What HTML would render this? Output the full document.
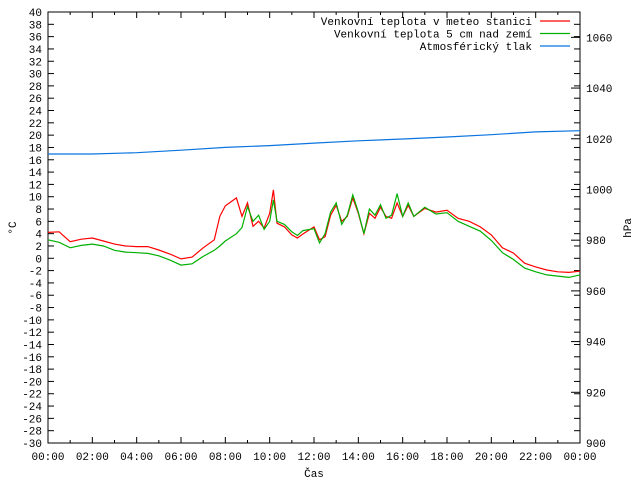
<!DOCTYPE html>
<html><head><meta charset="utf-8"><style>
html,body{margin:0;padding:0;background:#fff;}
svg text{font-family:"Liberation Mono","DejaVu Sans Mono",monospace;font-size:11px;fill:#000;}
</style></head><body>
<svg id="chart" width="640" height="480" xmlns="http://www.w3.org/2000/svg"></svg>
<script>
const hours = [0,0.5,1,1.5,2,2.5,3,3.5,4,4.5,5,5.5,6,6.5,7,7.5,7.75,8,8.5,8.75,9,9.25,9.5,9.75,10,10.17,10.33,10.67,11,11.25,11.5,12,12.25,12.5,12.75,13,13.25,13.5,13.75,14,14.25,14.5,14.75,15,15.25,15.5,15.75,16,16.25,16.5,17,17.5,18,18.5,19,19.5,20,20.5,21,21.5,22,22.5,23,23.5,24];
const tempStation = [4.2,4.3,2.7,3.1,3.3,2.8,2.3,2.0,1.9,1.9,1.35,0.7,-0.1,0.2,1.7,3.0,6.8,8.5,9.8,6.8,9.0,5.2,6.0,4.9,7.3,11.1,5.7,5.1,3.8,3.3,3.95,5.1,3.0,3.5,7.0,8.6,6.0,6.8,9.8,7.3,4.0,7.3,6.5,8.3,6.8,6.5,9.0,6.8,8.6,6.8,8.1,7.5,7.8,6.5,6.0,5.1,3.8,1.7,0.85,-0.8,-1.4,-1.9,-2.2,-2.3,-2.1];
const tempGround = [3.0,2.6,1.7,2.1,2.3,2.0,1.3,1.0,0.9,0.8,0.4,-0.3,-1.1,-0.9,0.3,1.3,2.0,2.8,4.0,5.0,8.4,6.0,7.0,4.7,6.0,9.5,6.0,5.5,4.3,3.7,4.5,4.8,2.5,4.0,7.5,9.0,5.5,7.0,10.3,7.5,4.0,8.0,7.0,8.7,6.5,7.0,10.5,6.8,9.0,6.8,8.3,7.2,7.4,6.0,5.2,4.4,2.9,0.9,-0.2,-1.6,-2.2,-2.7,-2.9,-3.1,-2.7];
const pHours = [0,2,4,6,8,10,12,14,16,18,20,22,24];
const pressure = [1014.0,1014.0,1014.5,1015.5,1016.6,1017.3,1018.3,1019.2,1019.9,1020.7,1021.6,1022.7,1023.2];
const yTicks = [];for(let v=-30;v<=40;v+=2)yTicks.push(v);
const y2Ticks = [900,920,940,960,980,1000,1020,1040,1060];
const xTickLabels = ["00:00","02:00","04:00","06:00","08:00","10:00","12:00","14:00","16:00","18:00","20:00","22:00","00:00"];

const L=48,R=580,T=12,B=443;
const sx=h=>L+(R-L)*h/24;
const sy=t=>B-(t+30)*(B-T)/70;
const sy2=p=>B-(p-900)*(B-T)/170;
const svg=document.getElementById('chart');
const NS='http://www.w3.org/2000/svg';
function mk(tag,attrs,parent){const e=document.createElementNS(NS,tag);for(const k in attrs)e.setAttribute(k,attrs[k]);(parent||svg).appendChild(e);return e;}

const axes=mk('g',{});


// ticks
yTicks.forEach(v=>{
  const y=sy(v);
  mk('line',{x1:L,y1:y,x2:L+6,y2:y,stroke:'#000'},axes);
  mk('line',{x1:R,y1:y,x2:R-6,y2:y,stroke:'#000'},axes);
  const t=mk('text',{x:42,y:y+4,'text-anchor':'end'},axes);
  t.textContent=v;
  
  
});
y2Ticks.forEach(v=>{
  const y=sy2(v);
  mk('line',{x1:R,y1:y,x2:R-9,y2:y,stroke:'#000'},axes);
  const t=mk('text',{x:586,y:y+4,'text-anchor':'start'},axes);
  t.textContent=v;
  
  
});
for(let h=0;h<=24;h++){
  const x=sx(h),len=(h%2===0)?6:3;
  mk('line',{x1:x,y1:B,x2:x,y2:B-len,stroke:'#000'},axes);
  mk('line',{x1:x,y1:T,x2:x,y2:T+len,stroke:'#000'},axes);
}
xTickLabels.forEach((s,i)=>{
  const t=mk('text',{x:sx(i*2),y:460,'text-anchor':'middle'},axes);
  t.textContent=s;
  
  
});
mk('rect',{x:L,y:T,width:R-L,height:B-T,fill:'none',stroke:'#000'},axes);

const xt=mk('text',{x:314,y:477,'text-anchor':'middle'});
xt.textContent='Čas';


const yt=mk('text',{x:16,y:228,'text-anchor':'middle',transform:'rotate(-90 16 228)'});
yt.textContent='°C';


const y2t=mk('text',{x:631,y:228,'text-anchor':'middle',transform:'rotate(-90 631 228)'});
y2t.textContent='hPa';



function series(xs,ys,fx,fy,color,name){
  const d=xs.map((h,i)=>(i?'L':'M')+fx(h).toFixed(1)+' '+fy(ys[i]).toFixed(1)).join(' ');
  const p=mk('path',{d:d,fill:'none',stroke:color,'stroke-width':1.2});
  
  
}
series(pHours,pressure,sx,sy2,'#0a74e0','pressure-line');
series(hours,tempStation,sx,sy,'#ff0000','station-temperature-line');
series(hours,tempGround,sx,sy,'#00b000','ground-temperature-line');

const legend=[['Venkovní teplota v meteo stanici','#ff0000'],['Venkovní teplota 5 cm nad zemí','#00b000'],['Atmosférický tlak','#0a74e0']];
legend.forEach((e,i)=>{
  const g=mk('g',{});
  
  
  const y=21+i*12.5;
  const t=mk('text',{x:532,y:y+4,'text-anchor':'end'},g);
  t.textContent=e[0];
  mk('line',{x1:540,y1:y,x2:570,y2:y,stroke:e[1],'stroke-width':1.2},g);
});
</script>
</body></html>
